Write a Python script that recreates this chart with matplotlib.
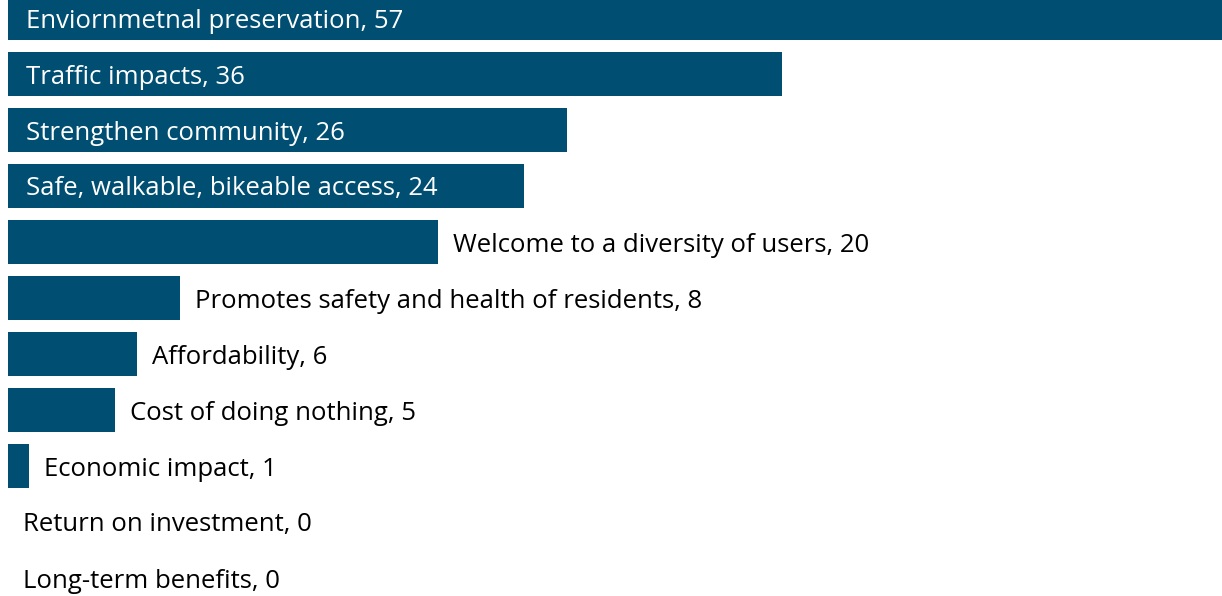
import matplotlib
matplotlib.use("Agg")
import matplotlib.pyplot as plt

# values
categories = [
    "Enviornmetnal preservation",
    "Traffic impacts",
    "Strengthen community",
    "Safe, walkable, bikeable access",
    "Welcome to a diversity of users",
    "Promotes safety and health of residents",
    "Affordability",
    "Cost of doing nothing",
    "Economic impact",
    "Return on investment",
    "Long-term benefits",
]
counts = [57, 36, 26, 24, 20, 8, 6, 5, 1, 0, 0]

bar_color = "#004E72"
inside_cutoff = 24  # labels go inside bars at or above this value

plt.rcParams["font.family"] = ["Open Sans", "DejaVu Sans"]

fig = plt.figure(figsize=(12.22, 5.96), dpi=100)
ax = fig.add_axes([0, 0, 1, 1])

y = list(range(len(categories)))
ax.barh(y, counts, height=0.786, color=bar_color)

for i, (cat, v) in enumerate(zip(categories, counts)):
    label = f"{cat}, {v}"
    if v >= inside_cutoff:
        ax.annotate(label, (0, i), xytext=(18, 0), textcoords="offset pixels",
                    va="center_baseline", ha="left", color="white", fontsize=18.5)
    else:
        ax.annotate(label, (v, i), xytext=(15, 0), textcoords="offset pixels",
                    va="center_baseline", ha="left", color="black", fontsize=18.5)

ax.set_xlim(-8 / 21.5, 1214 / 21.5)
ax.set_ylim((596 - 18) / 56, -18 / 56)
ax.axis("off")

fig.savefig("out.png", dpi=100)
